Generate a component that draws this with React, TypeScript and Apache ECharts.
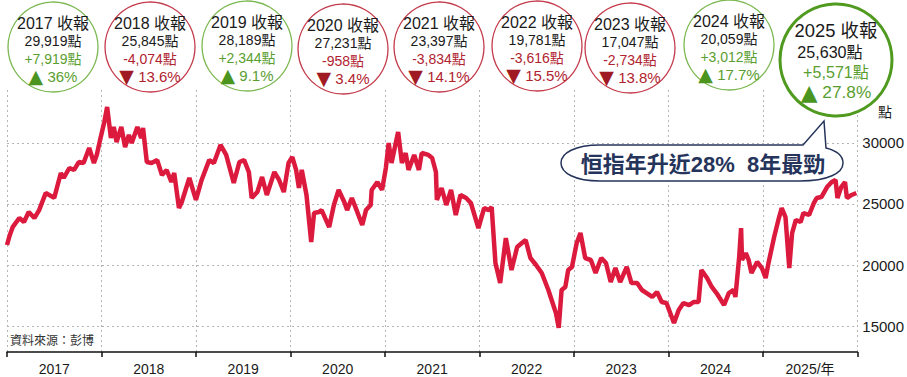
import React, { useEffect, useRef } from 'react';
import * as echarts from 'echarts';

// ---- data ----
const xCategories = ['2017', '2018', '2019', '2020', '2021', '2022', '2023', '2024', '2025/年'];
const yTickValues = [15000, 20000, 25000, 30000];

const yearLabels = ['2017', '2018', '2019', '2020', '2021', '2022', '2023', '2024', '2025'];
const yearClose = ['29,919', '25,845', '28,189', '27,231', '23,397', '19,781', '17,047', '20,059', '25,630'];
const yearChange = ['+7,919', '-4,074', '+2,344', '-958', '-3,834', '-3,616', '-2,734', '+3,012', '+5,571'];
const yearPct = ['36%', '13.6%', '9.1%', '3.4%', '14.1%', '15.5%', '13.8%', '17.7%', '27.8%'];
const yearUp = [true, false, true, false, false, false, false, true, true];

const calloutText = '恒指年升近28%  8年最勁';
const sourceText = '資料來源：彭博';

// time in decimal years, HSI level
const hsiTime = [
  2017.0, 2017.03, 2017.06, 2017.13, 2017.18, 2017.23, 2017.29, 2017.34, 2017.41, 2017.5,
  2017.57, 2017.6, 2017.66, 2017.71, 2017.76, 2017.81, 2017.87, 2017.92, 2017.95, 2017.99,
  2018.03, 2018.06, 2018.1, 2018.13, 2018.16, 2018.21, 2018.25, 2018.29, 2018.32, 2018.38,
  2018.42, 2018.44, 2018.48, 2018.53, 2018.59, 2018.64, 2018.69, 2018.74, 2018.77, 2018.82,
  2018.85, 2018.93, 2019.0, 2019.06, 2019.14, 2019.19, 2019.26, 2019.32, 2019.4, 2019.46,
  2019.51, 2019.56, 2019.59, 2019.65, 2019.7, 2019.75, 2019.83, 2019.88, 2019.93, 2019.98,
  2020.02, 2020.06, 2020.09, 2020.12, 2020.17, 2020.22, 2020.25, 2020.3, 2020.33, 2020.41,
  2020.46, 2020.51, 2020.57, 2020.6, 2020.65, 2020.7, 2020.76, 2020.8, 2020.85, 2020.86,
  2020.92, 2020.97, 2021.01, 2021.04, 2021.07, 2021.14, 2021.18, 2021.22, 2021.25, 2021.31,
  2021.36, 2021.39, 2021.46, 2021.5, 2021.54, 2021.55, 2021.6, 2021.65, 2021.7, 2021.75,
  2021.8, 2021.86, 2021.91, 2021.99, 2022.05, 2022.1, 2022.13, 2022.17, 2022.22, 2022.28,
  2022.34, 2022.4, 2022.45, 2022.49, 2022.54, 2022.6, 2022.66, 2022.73, 2022.81, 2022.84,
  2022.87, 2022.91, 2022.94, 2022.98, 2023.03, 2023.07, 2023.12, 2023.18, 2023.23, 2023.29,
  2023.34, 2023.39, 2023.44, 2023.49, 2023.56, 2023.61, 2023.67, 2023.72, 2023.77, 2023.83,
  2023.88, 2023.93, 2023.98, 2024.06, 2024.11, 2024.16, 2024.22, 2024.27, 2024.32, 2024.35,
  2024.41, 2024.46, 2024.51, 2024.59, 2024.64, 2024.69, 2024.71, 2024.75, 2024.77, 2024.78,
  2024.82, 2024.85, 2024.88, 2024.94, 2024.99, 2025.03, 2025.06, 2025.12, 2025.17, 2025.2,
  2025.24, 2025.28, 2025.31, 2025.35, 2025.4, 2025.43, 2025.49, 2025.54, 2025.57, 2025.62,
  2025.68, 2025.73, 2025.77, 2025.79, 2025.83, 2025.87, 2025.89, 2025.94, 2025.99,
];
const hsiValue = [
  21640, 22460, 23100, 23850, 23520, 24340, 23850, 24500, 25900, 25500,
  27540, 27130, 27950, 27790, 28440, 28360, 29590, 28360, 29020, 30410,
  31720, 32950, 30410, 31310, 30080, 31310, 29670, 30660, 30000, 31310,
  30410, 31230, 28440, 28360, 28600, 27380, 27790, 26800, 27540, 24670,
  25160, 27130, 25330, 26970, 28600, 28360, 29840, 29020, 26720, 28440,
  28600, 27620, 25490, 25980, 27210, 25740, 27620, 26970, 25980, 28360,
  28850, 27790, 26310, 27790, 25740, 21890, 24260, 24340, 24500, 23110,
  24920, 26150, 25160, 24500, 25490, 24500, 23280, 24500, 24920, 26150,
  26800, 26150, 27950, 30000, 28360, 30900, 28360, 29180, 27790, 29020,
  27790, 29180, 29020, 28770, 27620, 25330, 26310, 24920, 26150, 24100,
  25740, 25490, 25080, 23030, 24670, 24500, 24750, 20160, 18520, 22210,
  19590, 21480, 21800, 22050, 20570, 20000, 19340, 17950, 16070, 14840,
  17950, 18200, 19590, 19840, 21800, 22620, 20570, 20410, 19340, 20570,
  20160, 18600, 19750, 18600, 19840, 18520, 18520, 17950, 17700, 17380,
  17790, 16970, 16880, 15240, 16310, 16880, 16720, 16970, 16970, 19590,
  18930, 18200, 17700, 16720, 17700, 17950, 17380, 20650, 23030, 20410,
  20980, 20410, 19340, 20250, 19750, 18930, 20160, 22290, 23850, 24670,
  23930, 19750, 22620, 23690, 23520, 24260, 24100, 25080, 25490, 25570,
  26390, 26800, 26970, 25490, 26390, 26800, 25490, 25740, 25900,
];

// ---- styling ----
const FONT = "'Liberation Sans', 'Noto Sans CJK TC', sans-serif";
const GREEN_TXT = '#5a9e2f';
const GREEN_TRI = '#4b951f';
const GREEN_STROKE = '#7cb852';
const GREEN_STROKE_BIG = '#4f9a1f';
const RED_TXT = '#b0232f';
const RED_TRI = '#a01a24';
const RED_STROKE = '#c43a4a';
const NAVY = '#25345a';

let shapeRegistered = false;
function registerBubble() {
  if (shapeRegistered) return;
  const d =
    'M 600 145 L 803 145 L 824 121 L 826 148 C 838 151 843 157 843 163 ' +
    'C 843 173 828 181 800 181 L 600 181 C 575 181 561 173 561 163 ' +
    'C 561 153 575 145 600 145 Z';
  echarts.graphic.registerShape('bubble', echarts.graphic.extendPath(d, {}));
  shapeRegistered = true;
}

const circleCx = [53, 150, 247, 343, 439, 537, 630, 729, 836];
const circleCy = [47, 47, 46, 49, 47, 46, 48, 45, 60];

function buildCircles() {
  const els: any[] = [];
  yearLabels.forEach((yr, i) => {
    const big = i === yearLabels.length - 1;
    const cx = circleCx[i];
    const cy = circleCy[i];
    const up = yearUp[i];
    const r = big ? 56 : 45;
    els.push({
      type: 'circle',
      shape: { cx, cy, r },
      style: {
        fill: '#fff',
        stroke: up ? (big ? GREEN_STROKE_BIG : GREEN_STROKE) : RED_STROKE,
        lineWidth: big ? 3 : 1.3,
      },
      z: 10,
    });
    const col = up ? GREEN_TXT : RED_TXT;
    const s = big ? 1.15 : 1;
    const offs = big ? [-30, -8, 12, 32] : [-24, -6, 12, 29];
    const lines = [
      { t: `${yr} 收報`, c: '#1a1a1a', f: 16 * s, dx: 0 },
      { t: `${yearClose[i]}點`, c: '#1a1a1a', f: 14 * s, dx: big ? -6 : 0 },
      { t: `${yearChange[i]}點`, c: col, f: 14 * s, dx: 0 },
    ];
    lines.forEach((ln, k) => {
      els.push({
        type: 'text',
        x: cx + ln.dx,
        y: cy + offs[k],
        z: 11,
        style: {
          text: ln.t,
          fill: ln.c,
          font: `${ln.f}px ${FONT}`,
          align: 'center',
          verticalAlign: 'middle',
        },
      });
    });
    els.push({
      type: 'text',
      x: cx,
      y: cy + offs[3],
      z: 11,
      style: {
        text: `{tri|${up ? '▲' : '▼'}}{pct| ${yearPct[i]}}`,
        align: 'center',
        verticalAlign: 'middle',
        rich: {
          tri: { fill: up ? GREEN_TRI : RED_TRI, fontSize: 19 * s, fontFamily: 'DejaVu Sans' },
          pct: { fill: col, fontSize: 15 * s, fontFamily: FONT },
        },
      },
    });
  });
  return els;
}

export default function App() {
  const ref = useRef<HTMLDivElement>(null);
  useEffect(() => {
    if (!ref.current) return;
    registerBubble();
    const chart = echarts.init(ref.current, null, { renderer: 'svg' });
    const data = hsiTime.map((t, i) => [t, hsiValue[i]]);
    const gridLine = { show: true, lineStyle: { color: '#b5b5b5', type: [2, 3], width: 1 } };
    chart.setOption({
      animation: false,
      backgroundColor: '#fff',
      grid: { left: 7, right: 48, top: 90, bottom: 25 },
      xAxis: [
        {
          type: 'category',
          data: xCategories,
          boundaryGap: true,
          axisLine: { show: true, lineStyle: { color: '#111', width: 1.5 } },
          axisTick: { show: true, length: 5, lineStyle: { color: '#111', width: 1.5 } },
          axisLabel: { color: '#1a1a1a', fontSize: 14, fontFamily: FONT, margin: 10 },
          splitLine: gridLine,
        },
        {
          type: 'value',
          min: 2017,
          max: 2026,
          show: false,
          splitLine: { show: false },
        },
      ],
      yAxis: {
        type: 'value',
        position: 'right',
        min: 12869,
        max: 34344,
        axisLine: { show: false },
        axisTick: { show: false, customValues: yTickValues },
        axisLabel: {
          customValues: yTickValues,
          formatter: (v: number) => String(v),
          color: '#1a1a1a',
          fontSize: 15,
          fontFamily: FONT,
          margin: 5,
        },
        splitLine: gridLine,
      },
      series: [
        {
          type: 'line',
          xAxisIndex: 1,
          data,
          showSymbol: false,
          lineStyle: { color: '#dc1a3e', width: 4.5 },
          z: 5,
        },
      ],
      graphic: [
        ...buildCircles(),
        {
          type: 'text',
          x: 885,
          y: 112,
          style: { text: '點', fill: '#1a1a1a', font: `14px ${FONT}`, align: 'center', verticalAlign: 'middle' },
        },
        {
          type: 'bubble',
          x: 0,
          y: 0,
          z: 12,
          style: { fill: '#fff', stroke: NAVY, lineWidth: 1.5 },
        },
        {
          type: 'text',
          x: 703,
          y: 164,
          z: 13,
          style: {
            text: calloutText,
            fill: NAVY,
            font: `bold 22px ${FONT}`,
            align: 'center',
            verticalAlign: 'middle',
          },
        },
        {
          type: 'text',
          x: 10,
          y: 341,
          z: 13,
          style: {
            text: sourceText,
            fill: '#333',
            font: `12px ${FONT}`,
            align: 'left',
            verticalAlign: 'middle',
          },
        },
      ],
    });
    return () => chart.dispose();
  }, []);
  return <div ref={ref} style={{ position: 'absolute', left: 0, top: 0, width: 907, height: 377 }} />;
}
